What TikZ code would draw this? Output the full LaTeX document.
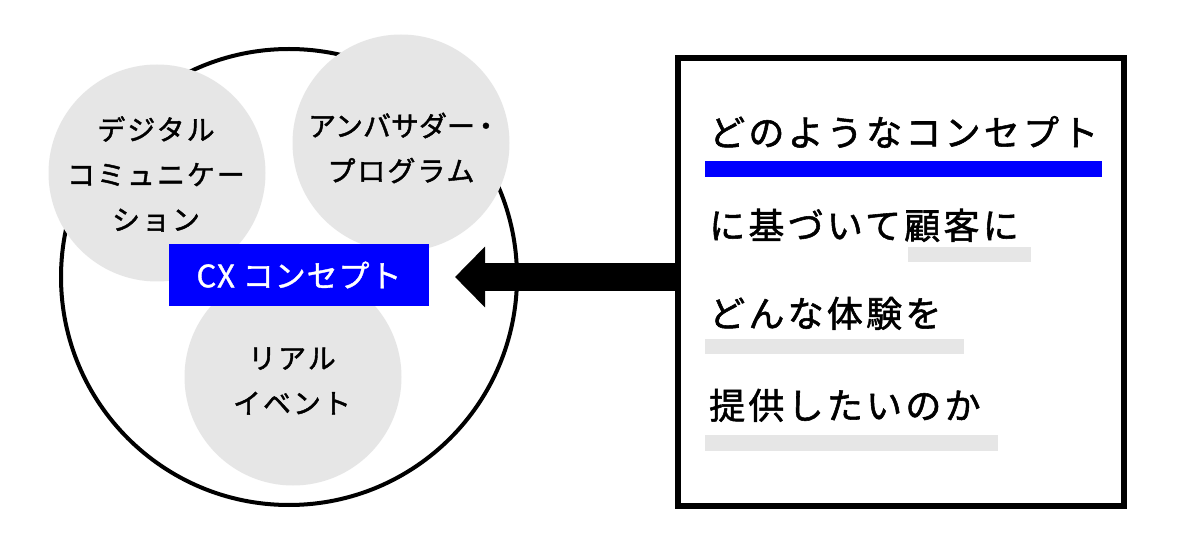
\documentclass[tikz,border=0pt]{standalone}
\usepackage{fontspec}
\setmainfont{Noto Sans CJK JP}
\newfontfamily\rfont[LetterSpace=9,FakeBold=1.5]{Noto Sans CJK JP}
\newfontfamily\cfont[LetterSpace=7,FakeBold=1.5]{Noto Sans CJK JP}
\newfontfamily\tightfont[LetterSpace=0,FakeBold=1.5]{Noto Sans CJK JP}
\newfontfamily\xfont[LetterSpace=3,FakeBold=1.2]{Noto Sans CJK JP}
\usetikzlibrary{arrows.meta}
\definecolor{cxblue}{RGB}{0,0,255}
\definecolor{softgray}{RGB}{230,230,230}
\begin{document}
\begin{tikzpicture}[x=1pt,y=-1pt,
  gc/.style={circle, fill=softgray, minimum size=217pt, inner sep=0pt},
  ct/.style={font=\cfont\fontsize{28pt}{45pt}\selectfont, align=center, inner sep=0pt},
  rt/.style={font=\rfont\fontsize{36pt}{40pt}\selectfont, anchor=base west, inner sep=0pt},
]
\fill[white] (0,0) rectangle (1200,545);
\useasboundingbox (0,0) rectangle (1200,545);
\node[circle, draw, line width=4pt, minimum size=456pt, inner sep=0pt] (outer) at (289,277) {};
\node[gc] (dcirc) at (157,173) {};
\node[gc] (acirc) at (401,143) {};
\node[gc] (rcirc) at (293,377) {};
\node[ct] (dtext) at (156,174) {デジタル\\コミュニケー\\ション};
\node[ct] (atext) at (401,148) {{\tightfont\fontsize{28pt}{45pt}\selectfont アンバサダー\kern-3pt・\kern-6pt}\\プログラム};
\node[ct] (rtext) at (292,381) {リアル\\イベント};
\node[fill=cxblue, minimum width=260pt, minimum height=62pt, inner sep=0pt, text=white,
      font=\xfont\fontsize{31pt}{31pt}\selectfont] (cx) at (299,275) {CX コンセプト};
\node[draw, line width=6pt, minimum width=446pt, minimum height=447pt, inner sep=0pt] (rbox) at (900.5,282) {};
\coordinate (tip) at (455,277);
\draw[line width=28pt, -{Triangle[length=30pt,width=59pt]}] (rbox.west |- tip) -- (tip);
\fill[cxblue] (705,161) rectangle (1102,177);
\fill[softgray] (908,247) rectangle (1031,262);
\fill[softgray] (705,339) rectangle (964,354);
\fill[softgray] (705,435) rectangle (998,451);
\node[rt] (l1) at (709,146) {どのようなコンセプト};
\node[rt] (l2) at (709,239) {に基づいて顧客に};
\node[rt] (l3) at (709,327) {どんな体験を};
\node[rt] (l4) at (709,419) {提供したいのか};
\end{tikzpicture}
\end{document}
